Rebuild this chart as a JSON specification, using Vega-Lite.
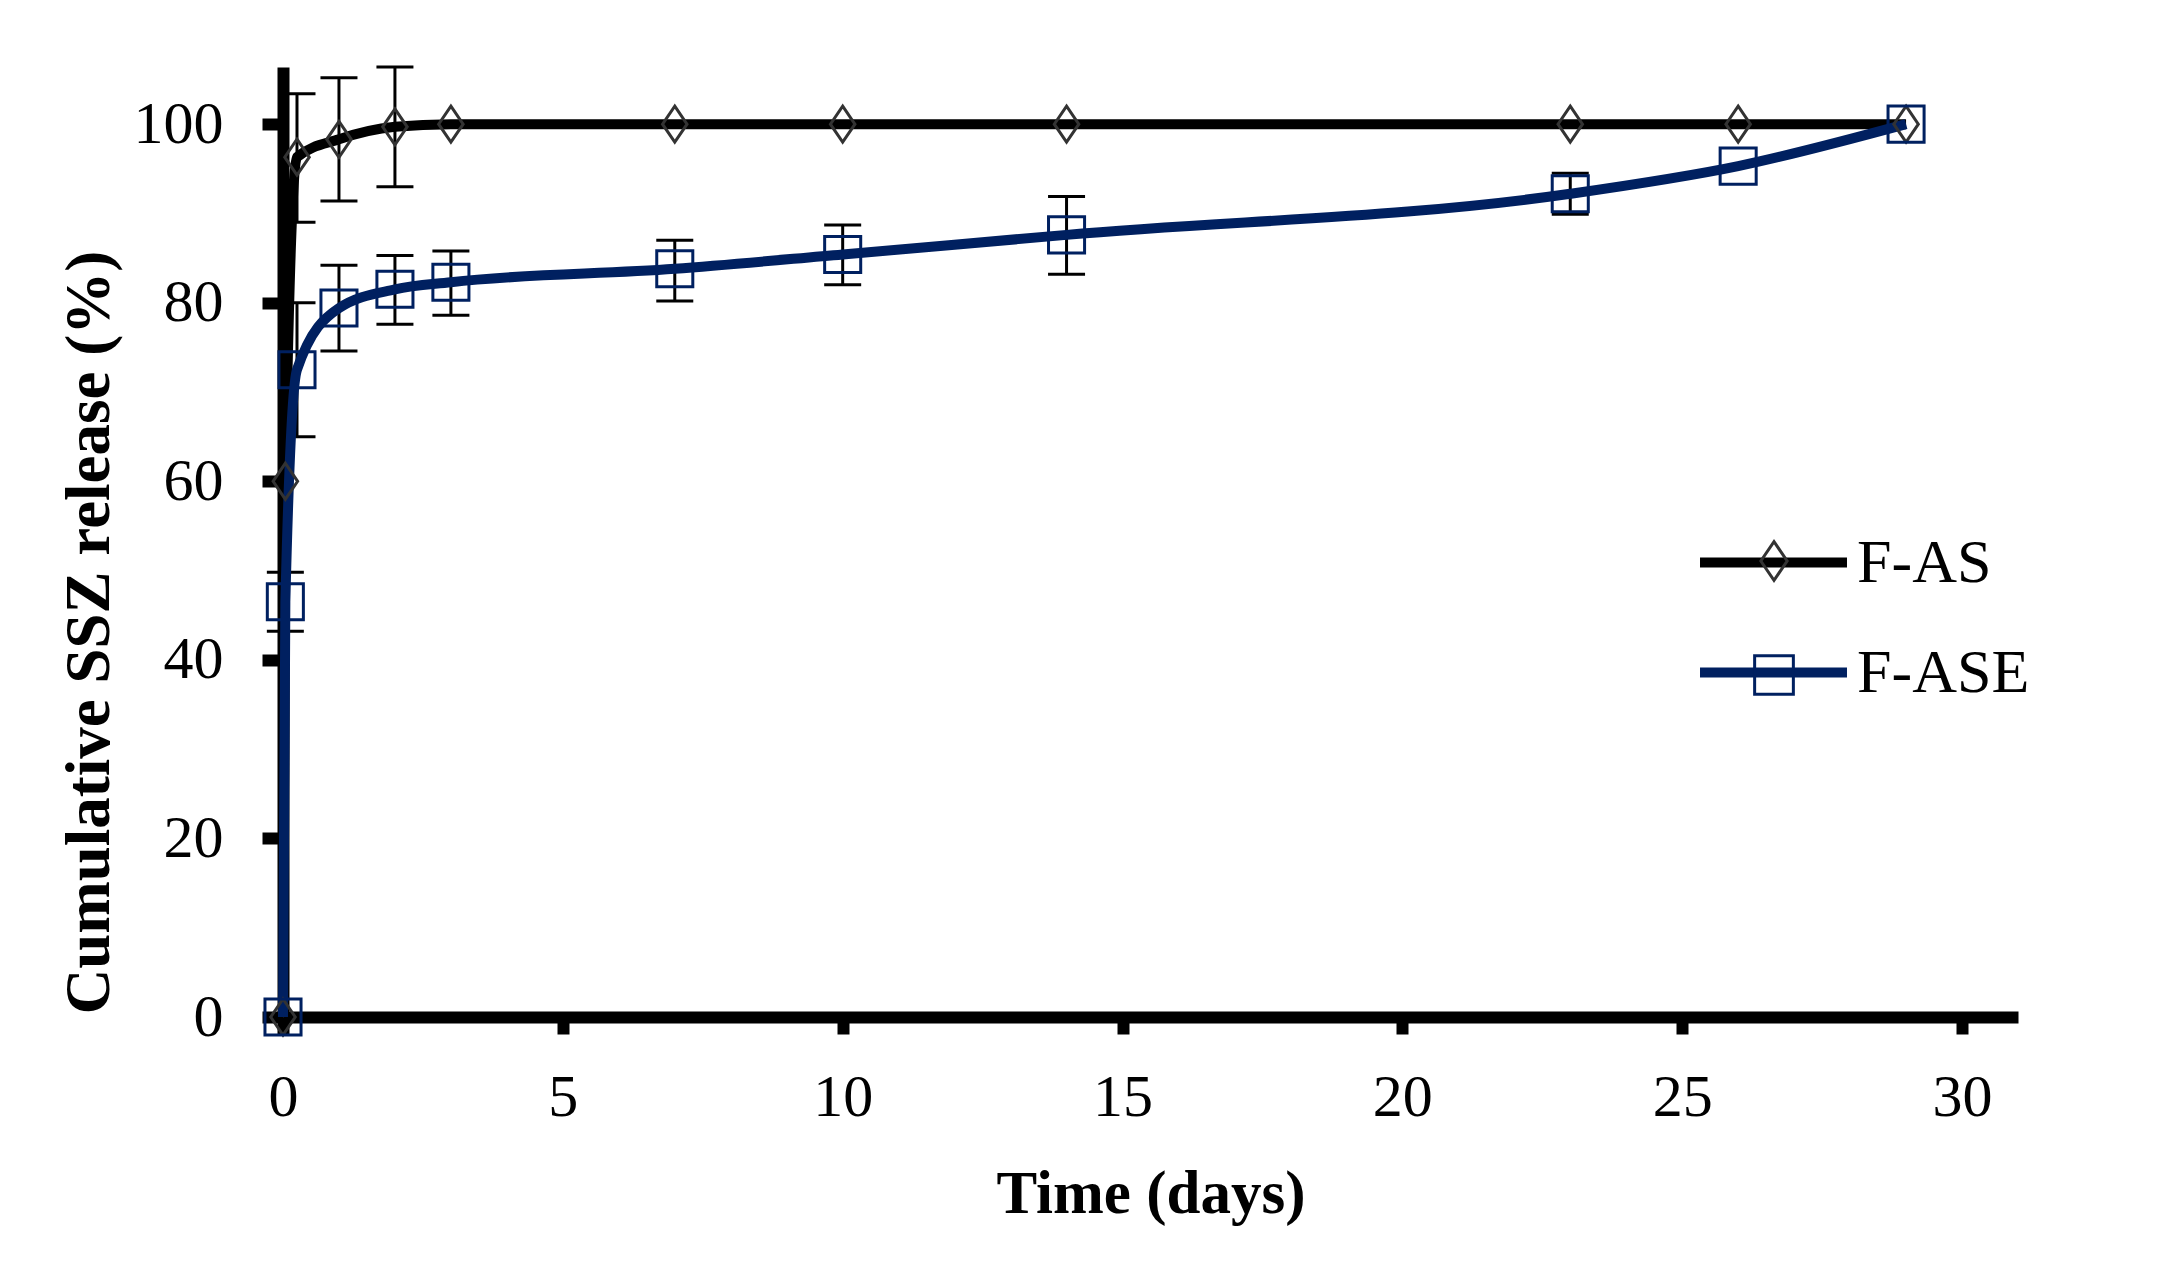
{
  "$schema": "https://vega.github.io/schema/vega-lite/v6.json",
  "width": 1735,
  "height": 950,
  "autosize": {"type": "none"},
  "padding": {"left": 283, "top": 67, "right": 164, "bottom": 249},
  "background": "white",
  "config": {"view": {"stroke": null}, "font": "Liberation Serif"},
  "data": {
    "values": [
      {"series": "F-AS", "t": 0, "v": 0},
      {"series": "F-AS", "t": 0.042, "v": 60},
      {"series": "F-AS", "t": 0.25, "v": 96.3, "lo": 89.0, "hi": 103.4},
      {"series": "F-AS", "t": 1, "v": 98.3, "lo": 91.4, "hi": 105.2},
      {"series": "F-AS", "t": 2, "v": 99.7, "lo": 93.0, "hi": 106.4},
      {"series": "F-AS", "t": 3, "v": 100},
      {"series": "F-AS", "t": 7, "v": 100},
      {"series": "F-AS", "t": 10, "v": 100},
      {"series": "F-AS", "t": 14, "v": 100},
      {"series": "F-AS", "t": 23, "v": 100},
      {"series": "F-AS", "t": 26, "v": 100},
      {"series": "F-AS", "t": 29, "v": 100},
      {"series": "F-ASE", "t": 0, "v": 0},
      {"series": "F-ASE", "t": 0.042, "v": 46.5, "lo": 43.2, "hi": 49.8},
      {"series": "F-ASE", "t": 0.25, "v": 72.5, "lo": 65.0, "hi": 80.0},
      {"series": "F-ASE", "t": 1, "v": 79.4, "lo": 74.6, "hi": 84.2},
      {"series": "F-ASE", "t": 2, "v": 81.5, "lo": 77.6, "hi": 85.3},
      {"series": "F-ASE", "t": 3, "v": 82.3, "lo": 78.6, "hi": 85.8},
      {"series": "F-ASE", "t": 7, "v": 83.8, "lo": 80.2, "hi": 87.0},
      {"series": "F-ASE", "t": 10, "v": 85.4, "lo": 82.0, "hi": 88.7},
      {"series": "F-ASE", "t": 14, "v": 87.6, "lo": 83.2, "hi": 91.9},
      {"series": "F-ASE", "t": 23, "v": 92.2, "lo": 89.9, "hi": 94.5},
      {"series": "F-ASE", "t": 26, "v": 95.3},
      {"series": "F-ASE", "t": 29, "v": 100}
    ]
  },
  "layer": [
    {
      "transform": [{"filter": "isValid(datum.lo)"}],
      "mark": {"type": "rule", "color": "black", "strokeWidth": 3},
      "encoding": {
        "x": {
          "field": "t", "type": "quantitative",
          "scale": {"domain": [0, 31], "nice": false, "zero": false},
          "axis": {
            "values": [0, 5, 10, 15, 20, 25, 30],
            "format": "d",
            "title": "Time (days)",
            "grid": false,
            "domainColor": "black", "domainWidth": 12,
            "tickColor": "black", "tickWidth": 12, "tickSize": 17,
            "labelFont": "Liberation Serif", "labelFontSize": 60, "labelColor": "black",
            "labelPadding": 34, "labelBaseline": "top", "labelFlush": false, "labelOverlap": false,
            "titleFont": "Liberation Serif", "titleFontSize": 61, "titleFontWeight": "bold",
            "titleColor": "black", "titleY": 195, "titleBaseline": "alphabetic"
          }
        },
        "y": {
          "field": "lo", "type": "quantitative",
          "scale": {"domain": [0, 106.4], "nice": false},
          "axis": {
            "values": [0, 20, 40, 60, 80, 100],
            "format": "d",
            "title": "Cumulative SSZ release (%)",
            "grid": false,
            "domainColor": "black", "domainWidth": 12,
            "tickColor": "black", "tickWidth": 12, "tickSize": 21,
            "labelFont": "Liberation Serif", "labelFontSize": 60, "labelColor": "black",
            "labelPadding": 39, "labelFlush": false, "labelOverlap": false,
            "titleFont": "Liberation Serif", "titleFontSize": 63, "titleFontWeight": "bold",
            "titleColor": "black", "titleX": -175, "titleY": 565, "titleAngle": 270,
            "titleBaseline": "alphabetic", "titleAlign": "center"
          }
        },
        "y2": {"field": "hi"}
      }
    },
    {
      "transform": [{"filter": "isValid(datum.lo)"}],
      "mark": {"type": "tick", "color": "black", "orient": "horizontal", "size": 37, "thickness": 3, "opacity": 1},
      "encoding": {
        "x": {"field": "t", "type": "quantitative"},
        "y": {"field": "lo", "type": "quantitative"}
      }
    },
    {
      "transform": [{"filter": "isValid(datum.hi)"}],
      "mark": {"type": "tick", "color": "black", "orient": "horizontal", "size": 37, "thickness": 3, "opacity": 1},
      "encoding": {
        "x": {"field": "t", "type": "quantitative"},
        "y": {"field": "hi", "type": "quantitative"}
      }
    },
    {
      "mark": {"type": "line", "strokeWidth": 10, "interpolate": "monotone"},
      "encoding": {
        "x": {"field": "t", "type": "quantitative"},
        "y": {"field": "v", "type": "quantitative"},
        "color": {
          "field": "series", "type": "nominal",
          "scale": {"range": ["black", "#002060"]},
          "legend": {
            "orient": "none", "legendX": 1456, "legendY": 461, "title": null, "padding": 0,
            "symbolType": "M-2.5,0L2.5,0", "symbolSize": 3457, "symbolStrokeWidth": 10,
            "labelFont": "Liberation Serif", "labelFontSize": 62, "labelColor": "black",
            "labelOffset": 49, "labelLimit": 0, "rowPadding": 44
          }
        }
      }
    },
    {
      "mark": {"type": "point", "filled": false, "strokeWidth": 3, "size": 1300, "fill": "transparent", "opacity": 1},
      "encoding": {
        "x": {"field": "t", "type": "quantitative"},
        "y": {"field": "v", "type": "quantitative"},
        "shape": {
          "field": "series", "type": "nominal",
          "scale": {"domain": ["F-AS", "F-ASE"], "range": ["M0,-1L0.68,0L0,1L-0.68,0Z", "square"]},
          "legend": {
            "orient": "none", "legendX": 1460, "legendY": 463, "title": null, "padding": 0,
            "symbolSize": 1500, "symbolStrokeWidth": 3, "symbolFillColor": "transparent", "symbolOpacity": 1,
            "labelFontSize": 62, "labelExpr": "''", "rowPadding": 52
          }
        },
        "stroke": {
          "field": "series", "type": "nominal",
          "scale": {"domain": ["F-AS", "F-ASE"], "range": ["#333333", "#002060"]},
          "legend": {
            "orient": "none", "legendX": 1460, "legendY": 463, "title": null, "padding": 0,
            "symbolSize": 1500, "symbolStrokeWidth": 3, "symbolFillColor": "transparent", "symbolOpacity": 1,
            "labelFontSize": 62, "labelExpr": "''", "rowPadding": 52
          }
        }
      }
    }
  ]
}
